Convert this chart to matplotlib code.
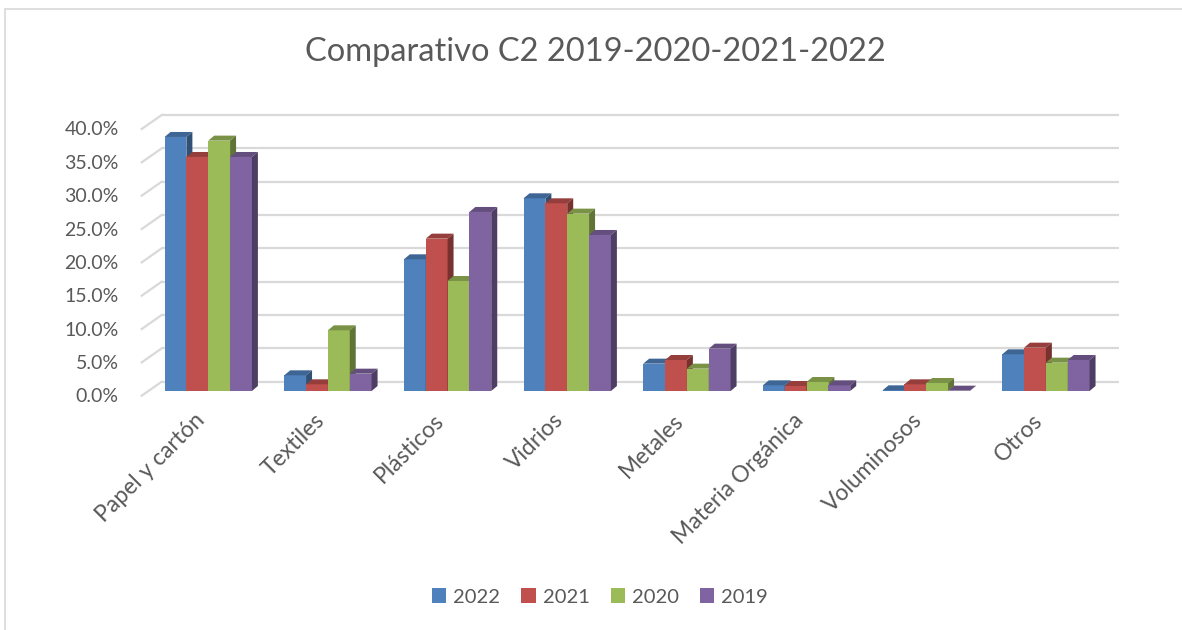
import matplotlib.pyplot as plt
import matplotlib.transforms as mtransforms
from matplotlib.patches import Polygon, Rectangle
from matplotlib.colors import to_rgb

categories = ['Papel y cartón', 'Textiles', 'Plásticos', 'Vidrios', 'Metales',
              'Materia Orgánica', 'Voluminosos', 'Otros']
years = ['2022', '2021', '2020', '2019']
v2022 = [38.1, 2.35, 19.75, 28.9, 4.1, 0.85, 0.1, 5.5]
v2021 = [35.1, 1.0, 22.85, 28.15, 4.65, 0.75, 1.0, 6.5]
v2020 = [37.55, 9.1, 16.5, 26.6, 3.35, 1.35, 1.2, 4.25]
v2019 = [35.1, 2.6, 26.85, 23.4, 6.35, 0.85, 0.05, 4.65]
series = [v2022, v2021, v2020, v2019]
colors = ['#4F81BD', '#C0504D', '#9BBB59', '#8064A2']
yticks = [0, 5, 10, 15, 20, 25, 30, 35, 40]

W, H = 1182, 630
FONT = ['Lato', 'DejaVu Sans']
TXT = '#595959'
GRID = '#D9D9D9'

plt.rcParams['font.family'] = FONT

fig = plt.figure(figsize=(W / 100, H / 100), dpi=100)
fig.patch.set_facecolor('white')

# chart frame (right and bottom edges fall outside the picture)
fig.patches.append(Rectangle((5 / W, -0.05), 1.2, (H - 9) / H + 0.05, transform=fig.transFigure,
                             fill=False, edgecolor='#D9D9D9', linewidth=1.2))

# front plane of the 3d box (pixels, from top-left)
left, right, y0, y40 = 141.7, 1099.0, 395.7, 129.0
ax = fig.add_axes([left / W, (H - y0) / H, (right - left) / W, (y0 - y40) / H])
ax.set_xlim(-0.5, len(categories) - 0.5)
ax.set_ylim(0, 40)
ax.axis('off')

ident = mtransforms.IdentityTransform()

# back wall gridlines + side wall lines
wall_dx, wall_dy = 20, 14
wall_tr = mtransforms.offset_copy(ax.transData, fig=fig, x=wall_dx, y=wall_dy, units='dots')
ax.hlines(yticks, -0.5, len(categories) - 0.5, colors=GRID, linewidth=1.6,
          transform=wall_tr, clip_on=False, zorder=1)
for t in yticks:
    px, py = ax.transData.transform((-0.5, t))
    ax.plot([px, px + wall_dx], [py, py + wall_dy], color=GRID, linewidth=1.6,
            transform=ident, clip_on=False, zorder=1)
    ax.text(-0.5, t, f'{t:.1f}%', transform=mtransforms.offset_copy(
        ax.transData, fig=fig, x=-23, y=-1, units='dots'),
        ha='right', va='center', fontsize=14, color=TXT)


def shade(c, f):
    r, g, b = to_rgb(c)
    return (r * f, g * f, b * f)


# 3d bars
bar_tr = mtransforms.offset_copy(ax.transData, fig=fig, x=6.7, y=4.7, units='dots')
bw = 0.1825
ddx, ddy = 6, 5
for i in range(len(categories)):
    for j, vals in enumerate(series):
        x0 = i + (j - 2) * bw
        x1 = x0 + bw
        h = vals[i]
        c = colors[j]
        z = 3 + j * 0.01 + i
        ax.bar(x0, h, width=bw, align='edge', color=c, transform=bar_tr,
               clip_on=False, zorder=z)
        (ax0, ay0), (ax1, ay1) = bar_tr.transform([(x0, 0), (x1, h)])
        top = Polygon([(ax0, ay1), (ax1, ay1), (ax1 + ddx, ay1 + ddy), (ax0 + ddx, ay1 + ddy)],
                      closed=True, facecolor=shade(c, 0.78), edgecolor='none',
                      transform=ident, clip_on=False, zorder=z)
        side = Polygon([(ax1, ay0), (ax1 + ddx, ay0 + ddy), (ax1 + ddx, ay1 + ddy), (ax1, ay1)],
                       closed=True, facecolor=shade(c, 0.62), edgecolor='none',
                       transform=ident, clip_on=False, zorder=z)
        ax.add_patch(top)
        ax.add_patch(side)

# category labels
lab_tr = mtransforms.offset_copy(ax.transData, fig=fig, x=4.5, y=-26, units='dots')
for i, cat in enumerate(categories):
    ax.text(i, 0, cat, transform=lab_tr, rotation=45, rotation_mode='anchor',
            ha='right', va='baseline', fontsize=16.5, color=TXT)

fig.text(595 / W, 1 - 52 / H, 'Comparativo C2 2019-2020-2021-2022', ha='center', va='center',
         fontsize=23.5, color=TXT)

handles = [Rectangle((0, 0), 1, 1, facecolor=c, edgecolor='none') for c in colors]
fig.legend(handles, years, loc='center', bbox_to_anchor=(600 / W, 1 - 597 / H), ncol=4,
           frameon=False, fontsize=14.5, labelcolor=TXT, handlelength=0.7, handleheight=0.7,
           handletextpad=0.35, columnspacing=1.05)

fig.savefig('out.png', dpi=100)
